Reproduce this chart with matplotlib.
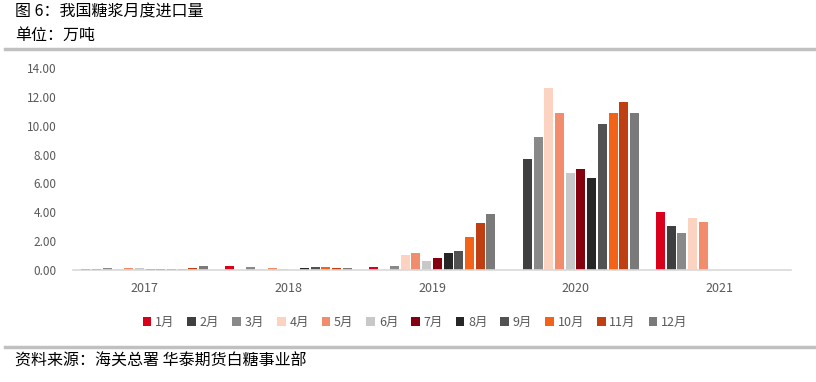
import numpy as np
import matplotlib.pyplot as plt
from matplotlib.lines import Line2D

plt.rcParams['font.family'] = ['Noto Sans CJK SC', 'DejaVu Sans']

years = ['2017', '2018', '2019', '2020', '2021']
months = ['1月', '2月', '3月', '4月', '5月', '6月', '7月', '8月', '9月', '10月', '11月', '12月']

# monthly imports, 10k tonnes (0 = no bar shown)
v2017 = [0.07, 0.07, 0.14, 0.07, 0.14, 0.14, 0.07, 0.07, 0.07, 0.07, 0.14, 0.28]
v2018 = [0.28, 0.00, 0.20, 0.07, 0.14, 0.07, 0.00, 0.14, 0.20, 0.20, 0.14, 0.14]
v2019 = [0.21, 0.00, 0.28, 1.04, 1.18, 0.62, 0.83, 1.18, 1.32, 2.29, 3.26, 3.88]
v2020 = [0.00, 7.69, 9.22, 12.60, 10.88, 6.72, 7.00, 6.38, 10.12, 10.88, 11.64, 10.88]
v2021 = [4.02, 3.05, 2.56, 3.60, 3.33, 0, 0, 0, 0, 0, 0, 0]

colors = ['#d9001b', '#3f3f3f', '#898989', '#fcd3c1', '#f18d6c', '#c8c8c8',
          '#85000f', '#262626', '#525252', '#f26219', '#bf3f12', '#7a7a7a']

vals = np.array([v2017, v2018, v2019, v2020, v2021])

W, H = 816, 382
fig = plt.figure(figsize=(W / 100, H / 100), dpi=100)
ax = fig.add_axes([73 / W, 1 - 270 / H, (791 - 73) / W, (270 - 68) / H])

x = np.arange(len(years))
pitch = 10.7 / 143.6
width = 9.0 / 143.6
for m in range(12):
    ax.bar(x + (m - 5.5) * pitch, vals[:, m], width, color=colors[m], label=months[m])

ax.set_xlim(-0.5, 4.5)
ax.set_ylim(0, 14)
ax.set_yticks(np.arange(0, 15, 2))
ax.set_yticklabels(['%.2f' % t for t in np.arange(0, 15, 2)])
ax.set_xticks(x)
ax.set_xticklabels(years)
ax.tick_params(axis='both', length=0, colors='#595959')
ax.tick_params(axis='y', labelsize=8.5, pad=12)
ax.tick_params(axis='x', labelsize=9, pad=9)
for s in ['top', 'right', 'left']:
    ax.spines[s].set_visible(False)
ax.spines['bottom'].set_color('#d9d9d9')
ax.spines['bottom'].set_linewidth(1.2)

leg = ax.legend(loc='center', bbox_to_anchor=(415 / W, 1 - 322 / H), bbox_transform=fig.transFigure,
                ncol=12, frameon=False, handlelength=0.7, handleheight=0.7, handletextpad=0.3,
                columnspacing=1.02, fontsize=9)
for t in leg.get_texts():
    t.set_color('#595959')

fig.text(15 / W, 1 - 12 / H, '图 6：我国糖浆月度进口量', va='center', ha='left', fontsize=11.5)
fig.text(15 / W, 1 - 35 / H, '单位：万吨', va='center', ha='left', fontsize=11.5)
fig.text(15 / W, 1 - 361 / H, '资料来源：海关总署 华泰期货白糖事业部', va='center', ha='left', fontsize=11.5)

fig.add_artist(Line2D([5 / W, 1], [1 - 48.5 / H] * 2, color='#c0c0c0', lw=2.5))
fig.add_artist(Line2D([5 / W, 1], [1 - 346.5 / H] * 2, color='#c0c0c0', lw=2.5))

fig.savefig('out.png', dpi=100)
